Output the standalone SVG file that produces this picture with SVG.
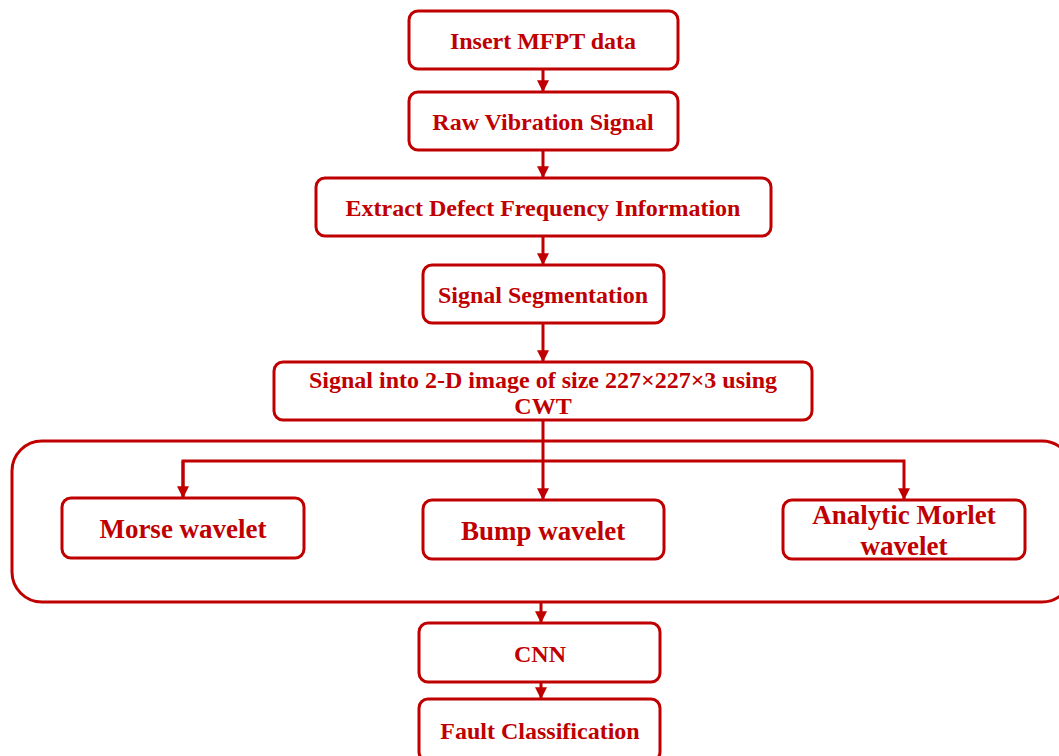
<svg xmlns="http://www.w3.org/2000/svg" width="1059" height="756" viewBox="0 0 1059 756">
  <style>
    .box { fill: #ffffff; stroke: #c00000; stroke-width: 3; }
    .lbl { font-family: "Liberation Serif", "Times New Roman", serif; font-weight: bold; fill: #c00000; text-anchor: middle; }
    .s20 { font-size: 24px; }
    .s23 { font-size: 27px; }
    .wire { fill: none; stroke: #c00000; stroke-width: 3; }
  </style>
  <defs>
    <marker id="arrow" viewBox="0 0 10 10" refX="9" refY="5" markerWidth="4" markerHeight="4" orient="auto" markerUnits="strokeWidth">
      <path d="M0,0 L10,5 L0,10 z" fill="#c00000"/>
    </marker>
  </defs>

  <!-- wavelet container -->
  <g id="wavelet-group">
    <rect class="box" x="12" y="441" width="1060" height="161" rx="30" ry="30"/>
  </g>

  <g id="connectors">
    <line class="wire" x1="543" y1="69" x2="543" y2="91" marker-end="url(#arrow)"/>
    <line class="wire" x1="543" y1="150" x2="543" y2="177" marker-end="url(#arrow)"/>
    <line class="wire" x1="543" y1="236" x2="543" y2="264" marker-end="url(#arrow)"/>
    <line class="wire" x1="543" y1="323" x2="543" y2="361" marker-end="url(#arrow)"/>
    <line class="wire" x1="543" y1="420" x2="543" y2="499" marker-end="url(#arrow)"/>
    <polyline class="wire" points="183,497 183,461 904,461 904,499" marker-end="url(#arrow)"/>
    <line class="wire" x1="183" y1="461" x2="183" y2="497" marker-end="url(#arrow)"/>
    <line class="wire" x1="541" y1="602" x2="541" y2="622" marker-end="url(#arrow)"/>
    <line class="wire" x1="541" y1="682" x2="541" y2="698" marker-end="url(#arrow)"/>
  </g>

  <g id="insert-data">
    <rect class="box" x="409" y="11" width="269" height="58" rx="9"/>
    <text class="lbl s20" x="543" y="49">Insert MFPT data</text>
  </g>
  <g id="raw-signal">
    <rect class="box" x="409" y="92" width="269" height="58" rx="9"/>
    <text class="lbl s20" x="543" y="130">Raw Vibration Signal</text>
  </g>
  <g id="extract-defect">
    <rect class="box" x="316" y="178" width="455" height="58" rx="9"/>
    <text class="lbl s20" x="543" y="216">Extract Defect Frequency Information</text>
  </g>
  <g id="segmentation">
    <rect class="box" x="423" y="265" width="241" height="58" rx="9"/>
    <text class="lbl s20" x="543" y="303">Signal Segmentation</text>
  </g>
  <g id="cwt-image">
    <rect class="box" x="274" y="362" width="538" height="58" rx="9"/>
    <text class="lbl s20" x="543" y="388">Signal into 2-D image of size 227×227×3 using</text>
    <text class="lbl s20" x="543" y="414">CWT</text>
  </g>
  <g id="morse">
    <rect class="box" x="62" y="498" width="242" height="60" rx="9"/>
    <text class="lbl s23" x="183" y="538">Morse wavelet</text>
  </g>
  <g id="bump">
    <rect class="box" x="423" y="500" width="241" height="59" rx="9"/>
    <text class="lbl s23" x="543" y="540">Bump wavelet</text>
  </g>
  <g id="morlet">
    <rect class="box" x="783" y="500" width="242" height="59" rx="9"/>
    <text class="lbl s23" x="904" y="524">Analytic Morlet</text>
    <text class="lbl s23" x="904" y="555">wavelet</text>
  </g>
  <g id="cnn">
    <rect class="box" x="419" y="623" width="241" height="59" rx="9"/>
    <text class="lbl s20" x="540" y="662">CNN</text>
  </g>
  <g id="fault">
    <rect class="box" x="419" y="699" width="241" height="62" rx="9"/>
    <text class="lbl s20" x="540" y="739">Fault Classification</text>
  </g>
</svg>
